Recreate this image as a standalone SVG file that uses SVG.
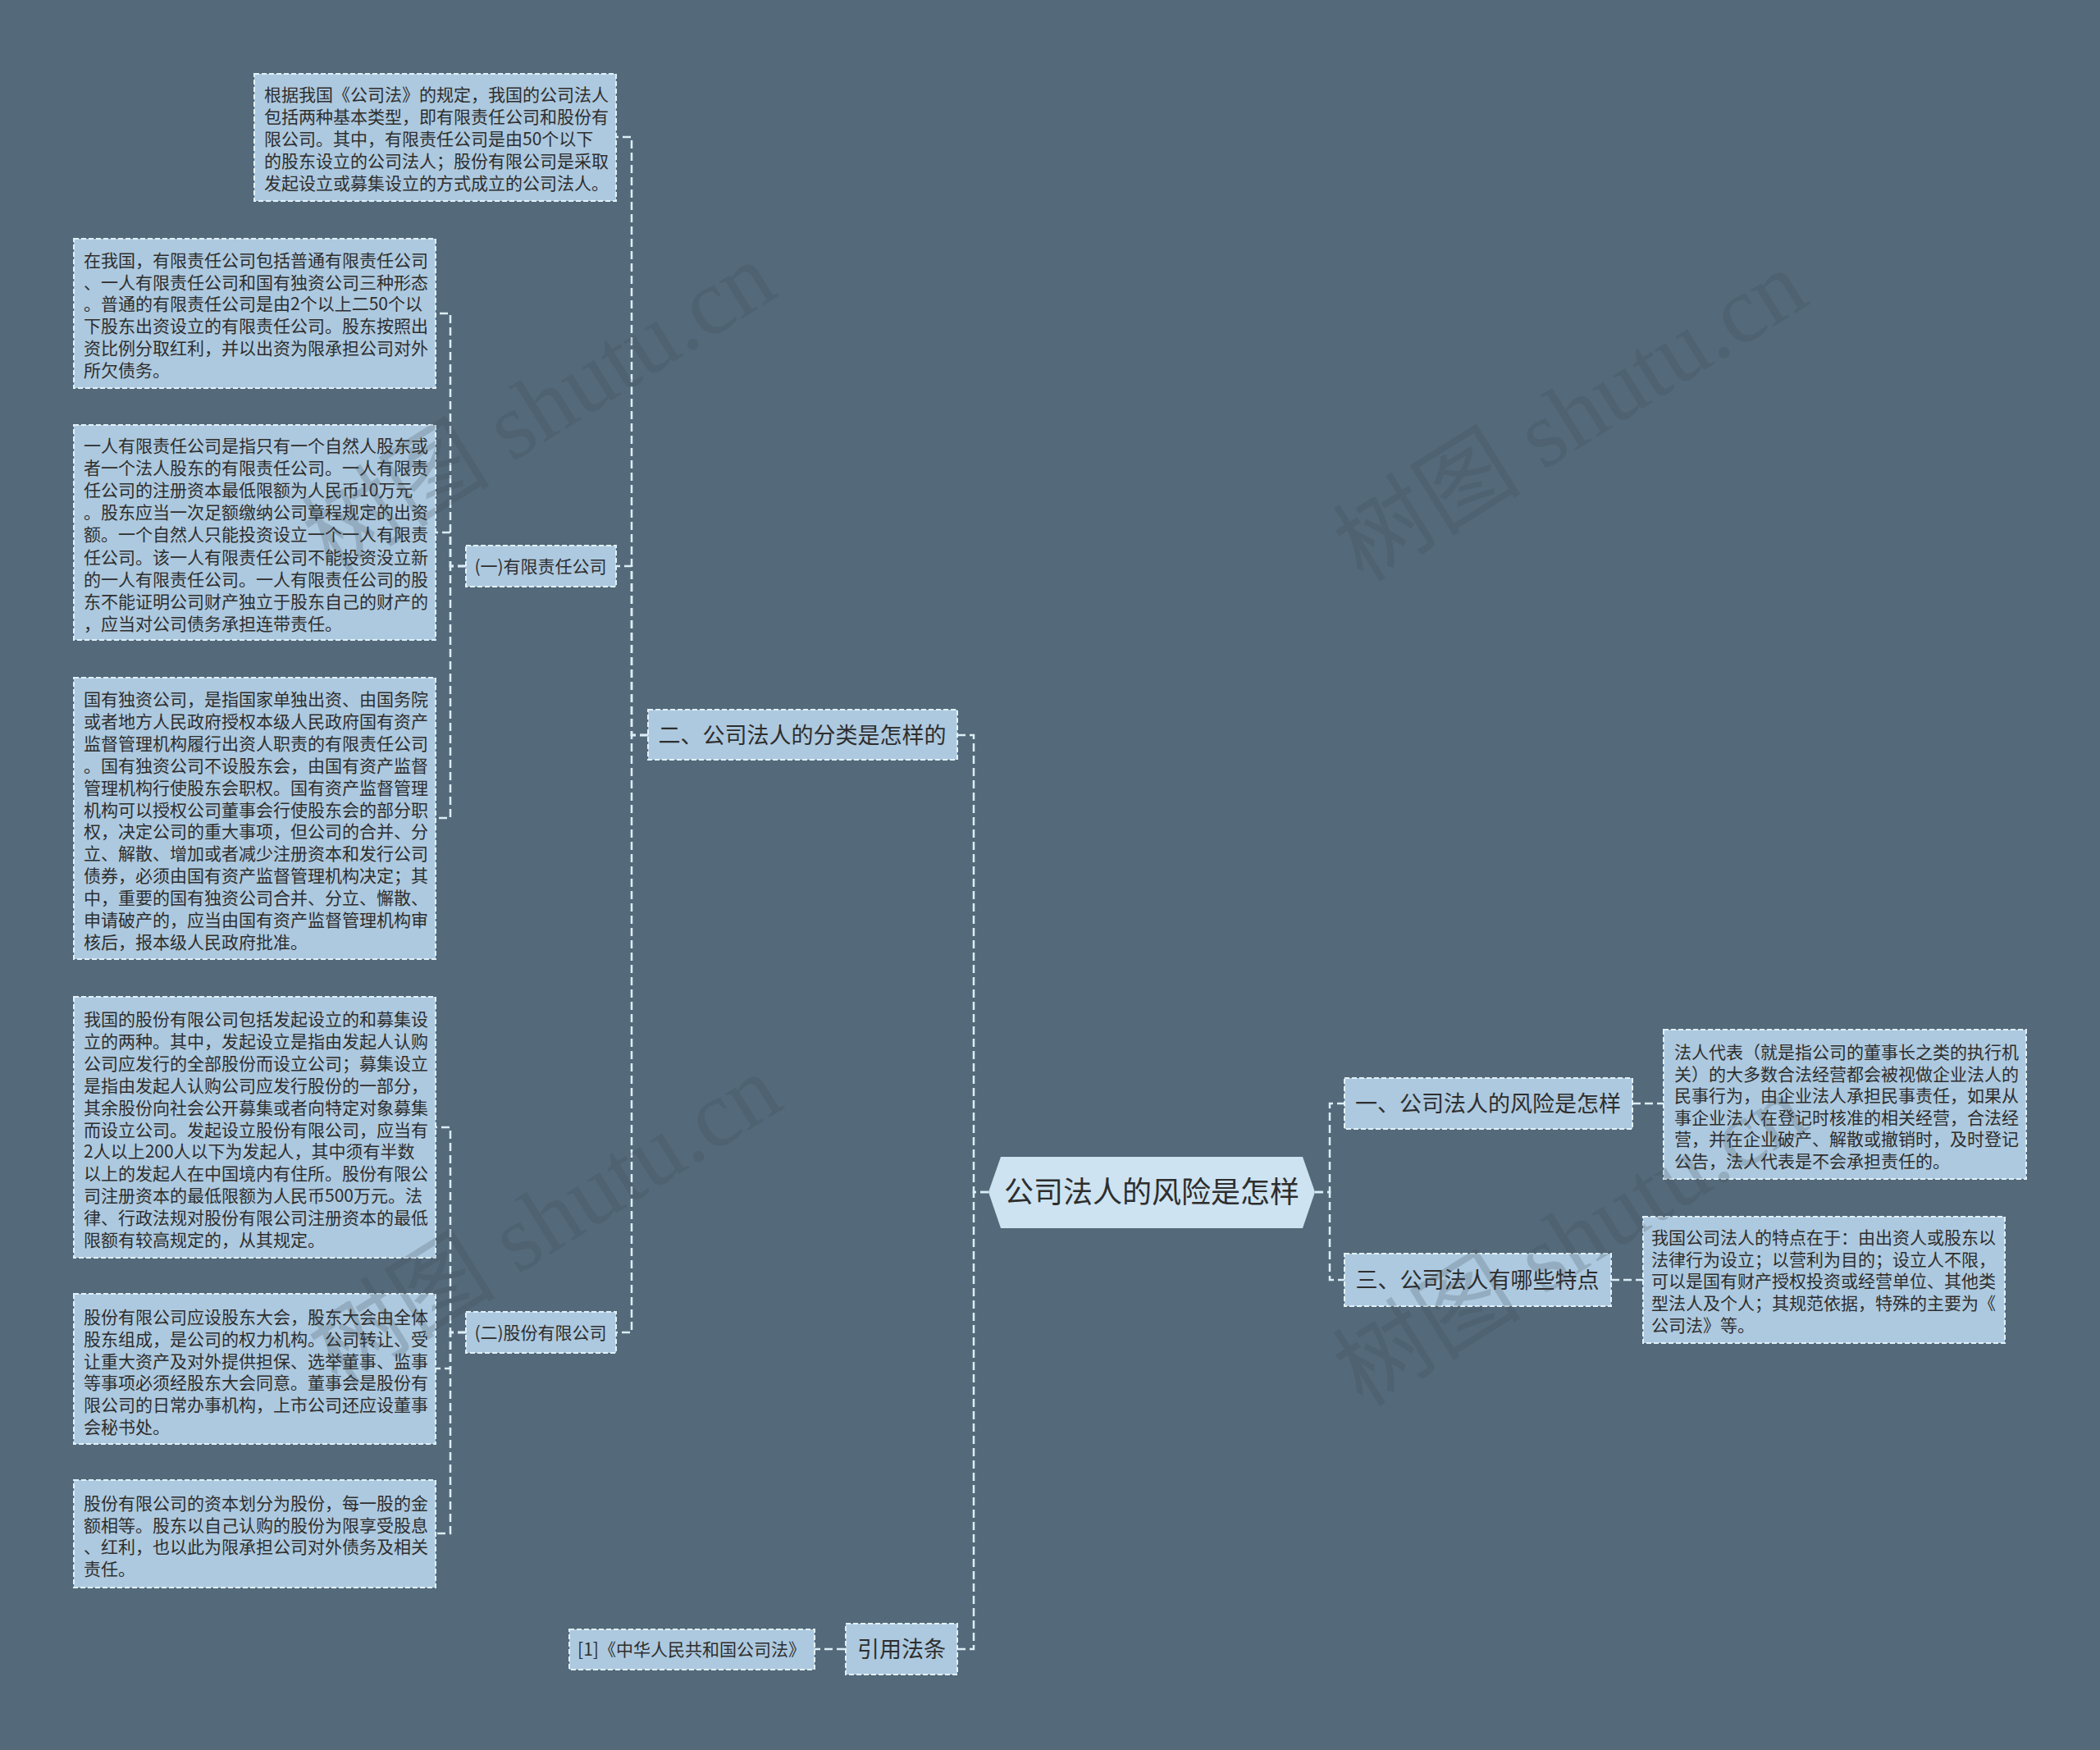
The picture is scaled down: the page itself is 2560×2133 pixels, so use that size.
<svg xmlns="http://www.w3.org/2000/svg" width="2560" height="2133" viewBox="0 0 2560 2133">
<style>
.bg{fill:#546a7a}
.box{fill:#adc9df;stroke:#e2f1fa;stroke-width:2;stroke-dasharray:6 3}
.root{fill:#cde3f1}
.t{font-family:"Noto Sans CJK SC","Noto Sans",sans-serif;fill:#2e2e2e}
.p{font-size:21px}
.m{font-size:27px;text-anchor:middle}
.s{font-size:21px;text-anchor:middle}
.r{font-size:36px;text-anchor:middle}
.c{fill:none;stroke:#dcedf7;stroke-width:2.5;stroke-dasharray:10 5}
.wm{font-family:"Liberation Serif","Noto Sans CJK SC",serif;font-size:115px;fill:#3a4753;opacity:0.22}
</style>
<rect class="bg" x="0" y="0" width="2560" height="2133"/>
<g id="connectors">
<path class="c" d="M1205,1453 H1187 V896 H1167"/>
<path class="c" d="M1205,1453 H1187 V2010 H1167"/>
<path class="c" d="M790,896 H770 V167 H751"/>
<path class="c" d="M790,896 H770 V690 H751"/>
<path class="c" d="M790,896 H770 V1624 H751"/>
<path class="c" d="M568,690 H549 V382 H531"/>
<path class="c" d="M568,690 H549 V649 H531"/>
<path class="c" d="M568,690 H549 V997 H531"/>
<path class="c" d="M568,1624 H549 V1374 H531"/>
<path class="c" d="M568,1624 H549 V1668 H531"/>
<path class="c" d="M568,1624 H549 V1869 H531"/>
<path class="c" d="M1030,2010 H993"/>
<path class="c" d="M1603,1453 H1621 V1345 H1639"/>
<path class="c" d="M1603,1453 H1621 V1560 H1639"/>
<path class="c" d="M1990,1345 H2028"/>
<path class="c" d="M1964,1560 H2003"/>
</g>
<g id="root">
<polygon class="root" points="1205,1453 1220,1410 1588,1410 1603,1453 1588,1497 1220,1497"/>
<text class="t r" x="1404" y="1466">公司法人的风险是怎样</text>
</g>
<g id="n-fenlei">
<rect class="box" x="790" y="865" width="377" height="61"/>
<text class="t m" x="978" y="906">二、公司法人的分类是怎样的</text>
</g>
<g id="n-yinyong">
<rect class="box" x="1031" y="1979" width="136" height="62"/>
<text class="t m" x="1099" y="2020">引用法条</text>
</g>
<g id="n-law">
<rect class="box" x="694" y="1986" width="299" height="49"/>
<text class="t s" x="843" y="2018">[1]《中华人民共和国公司法》</text>
</g>
<g id="n-fengxian">
<rect class="box" x="1639" y="1314" width="351" height="62"/>
<text class="t m" x="1814" y="1355">一、公司法人的风险是怎样</text>
</g>
<g id="n-tedian">
<rect class="box" x="1639" y="1528" width="325" height="64"/>
<text class="t m" x="1801" y="1570">三、公司法人有哪些特点</text>
</g>
<g id="n-youxian">
<rect class="box" x="568" y="665" width="183" height="50"/>
<text class="t s" x="659" y="698">(一)有限责任公司</text>
</g>
<g id="n-gufen">
<rect class="box" x="568" y="1599" width="183" height="50"/>
<text class="t s" x="659" y="1632">(二)股份有限公司</text>
</g>
<g id="n-box1">
<rect class="box" x="310" y="90" width="441" height="155"/>
<text class="t p" x="322" y="123"><tspan x="322">根据我国《公司法》的规定，我国的公司法人</tspan><tspan x="322" dy="27">包括两种基本类型，即有限责任公司和股份有</tspan><tspan x="322" dy="27">限公司。其中，有限责任公司是由50个以下</tspan><tspan x="322" dy="27">的股东设立的公司法人；股份有限公司是采取</tspan><tspan x="322" dy="27">发起设立或募集设立的方式成立的公司法人。</tspan></text>
</g>
<g id="n-box2">
<rect class="box" x="90" y="291" width="441" height="182"/>
<text class="t p" x="102" y="325"><tspan x="102">在我国，有限责任公司包括普通有限责任公司</tspan><tspan x="102" dy="26.7">、一人有限责任公司和国有独资公司三种形态</tspan><tspan x="102" dy="26.7">。普通的有限责任公司是由2个以上二50个以</tspan><tspan x="102" dy="26.7">下股东出资设立的有限责任公司。股东按照出</tspan><tspan x="102" dy="26.7">资比例分取红利，并以出资为限承担公司对外</tspan><tspan x="102" dy="26.7">所欠债务。</tspan></text>
</g>
<g id="n-box3">
<rect class="box" x="90" y="518" width="441" height="262"/>
<text class="t p" x="102" y="551"><tspan x="102">一人有限责任公司是指只有一个自然人股东或</tspan><tspan x="102" dy="27.1">者一个法人股东的有限责任公司。一人有限责</tspan><tspan x="102" dy="27.1">任公司的注册资本最低限额为人民币10万元</tspan><tspan x="102" dy="27.1">。股东应当一次足额缴纳公司章程规定的出资</tspan><tspan x="102" dy="27.1">额。一个自然人只能投资设立一个一人有限责</tspan><tspan x="102" dy="27.1">任公司。该一人有限责任公司不能投资没立新</tspan><tspan x="102" dy="27.1">的一人有限责任公司。一人有限责任公司的股</tspan><tspan x="102" dy="27.1">东不能证明公司财产独立于股东自己的财产的</tspan><tspan x="102" dy="27.1">，应当对公司债务承担连带责任。</tspan></text>
</g>
<g id="n-box4">
<rect class="box" x="90" y="826" width="441" height="343"/>
<text class="t p" x="102" y="860"><tspan x="102">国有独资公司，是指国家单独出资、由国务院</tspan><tspan x="102" dy="26.9">或者地方人民政府授权本级人民政府国有资产</tspan><tspan x="102" dy="26.9">监督管理机构履行出资人职责的有限责任公司</tspan><tspan x="102" dy="26.9">。国有独资公司不设股东会，由国有资产监督</tspan><tspan x="102" dy="26.9">管理机构行使股东会职权。国有资产监督管理</tspan><tspan x="102" dy="26.9">机构可以授权公司董事会行使股东会的部分职</tspan><tspan x="102" dy="26.9">权，决定公司的重大事项，但公司的合并、分</tspan><tspan x="102" dy="26.9">立、解散、增加或者减少注册资本和发行公司</tspan><tspan x="102" dy="26.9">债券，必须由国有资产监督管理机构决定；其</tspan><tspan x="102" dy="26.9">中，重要的国有独资公司合并、分立、懈散、</tspan><tspan x="102" dy="26.9">申请破产的，应当由国有资产监督管理机构审</tspan><tspan x="102" dy="26.9">核后，报本级人民政府批准。</tspan></text>
</g>
<g id="n-box5">
<rect class="box" x="90" y="1215" width="441" height="318"/>
<text class="t p" x="102" y="1250"><tspan x="102">我国的股份有限公司包括发起设立的和募集设</tspan><tspan x="102" dy="26.9">立的两种。其中，发起设立是指由发起人认购</tspan><tspan x="102" dy="26.9">公司应发行的全部股份而设立公司；募集设立</tspan><tspan x="102" dy="26.9">是指由发起人认购公司应发行股份的一部分，</tspan><tspan x="102" dy="26.9">其余股份向社会公开募集或者向特定对象募集</tspan><tspan x="102" dy="26.9">而设立公司。发起设立股份有限公司，应当有</tspan><tspan x="102" dy="26.9">2人以上200人以下为发起人，其中须有半数</tspan><tspan x="102" dy="26.9">以上的发起人在中国境内有住所。股份有限公</tspan><tspan x="102" dy="26.9">司注册资本的最低限额为人民币500万元。法</tspan><tspan x="102" dy="26.9">律、行政法规对股份有限公司注册资本的最低</tspan><tspan x="102" dy="26.9">限额有较高规定的，从其规定。</tspan></text>
</g>
<g id="n-box6">
<rect class="box" x="90" y="1577" width="441" height="183"/>
<text class="t p" x="102" y="1613"><tspan x="102">股份有限公司应设股东大会，股东大会由全体</tspan><tspan x="102" dy="26.8">股东组成，是公司的权力机构。公司转让、受</tspan><tspan x="102" dy="26.8">让重大资产及对外提供担保、选举董事、监事</tspan><tspan x="102" dy="26.8">等事项必须经股东大会同意。董事会是股份有</tspan><tspan x="102" dy="26.8">限公司的日常办事机构，上市公司还应设董事</tspan><tspan x="102" dy="26.8">会秘书处。</tspan></text>
</g>
<g id="n-box7">
<rect class="box" x="90" y="1804" width="441" height="131"/>
<text class="t p" x="102" y="1840"><tspan x="102">股份有限公司的资本划分为股份，每一股的金</tspan><tspan x="102" dy="26.7">额相等。股东以自己认购的股份为限享受股息</tspan><tspan x="102" dy="26.7">、红利，也以此为限承担公司对外债务及相关</tspan><tspan x="102" dy="26.7">责任。</tspan></text>
</g>
<g id="n-boxA">
<rect class="box" x="2028" y="1255" width="442" height="182"/>
<text class="t p" x="2041" y="1290"><tspan x="2041">法人代表（就是指公司的董事长之类的执行机</tspan><tspan x="2041" dy="26.5">关）的大多数合法经营都会被视做企业法人的</tspan><tspan x="2041" dy="26.5">民事行为，由企业法人承担民事责任，如果从</tspan><tspan x="2041" dy="26.5">事企业法人在登记时核准的相关经营，合法经</tspan><tspan x="2041" dy="26.5">营，并在企业破产、解散或撤销时，及时登记</tspan><tspan x="2041" dy="26.5">公告，法人代表是不会承担责任的。</tspan></text>
</g>
<g id="n-boxB">
<rect class="box" x="2003" y="1483" width="441" height="154"/>
<text class="t p" x="2013" y="1516"><tspan x="2013">我国公司法人的特点在于：由出资人或股东以</tspan><tspan x="2013" dy="26.7">法律行为设立；以营利为目的；设立人不限，</tspan><tspan x="2013" dy="26.7">可以是国有财产授权投资或经营单位、其他类</tspan><tspan x="2013" dy="26.7">型法人及个人；其规范依据，特殊的主要为《</tspan><tspan x="2013" dy="26.7">公司法》等。</tspan></text>
</g>
<g id="watermark">
<text class="wm" text-anchor="middle" transform="translate(678,530) rotate(-32)">树图 shutu.cn</text>
<text class="wm" text-anchor="middle" transform="translate(1935,540) rotate(-32)">树图 shutu.cn</text>
<text class="wm" text-anchor="middle" transform="translate(685,1520) rotate(-32)">树图 shutu.cn</text>
<text class="wm" text-anchor="middle" transform="translate(1935,1545) rotate(-32)">树图 shutu.cn</text>
</g>
</svg>
